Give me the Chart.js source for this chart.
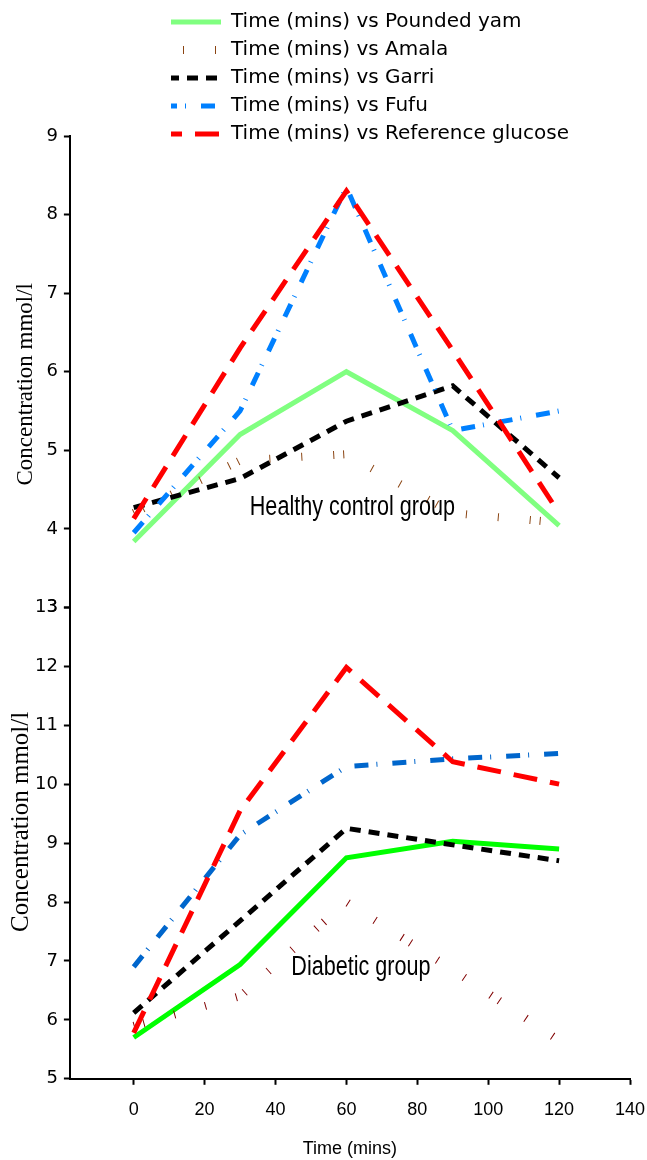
<!DOCTYPE html>
<html>
<head>
<meta charset="utf-8">
<title>Glucose response</title>
<script src="https://cdn.jsdelivr.net/npm/chart.js@4.4.1/dist/chart.umd.min.js"></script>
<style>
  html, body { margin: 0; padding: 0; background: #fff; }
  #wrap { position: relative; width: 647px; height: 1160px; overflow: hidden; }
  #wrap canvas { position: absolute; top: 0; }
</style>
</head>
<body>
<div id="wrap">
  <canvas id="glucoseChart" width="647" height="1160" style="left:0"></canvas>
  <canvas id="legendChart" width="1000" height="160" style="left:163px"></canvas>
</div>
<script>
const times = [0, 30, 60, 90, 120];
const foods = ["Pounded yam", "Amala", "Garri", "Fufu", "Reference glucose"];
const xTicks = [0, 20, 40, 60, 80, 100, 120, 140];

// healthy control group, mmol/l
const healthyPoundedYam = [3.84, 5.2, 6.0, 5.25, 4.04];
const healthyAmala = [4.2, 4.87, 4.95, 4.2, 4.08];
const healthyGarri = [4.27, 4.64, 5.37, 5.82, 4.65];
const healthyFufu = [3.95, 5.5, 8.35, 5.25, 5.5];
const healthyReference = [4.13, 6.3, 8.3, 6.27, 4.2];

// diabetic group, mmol/l
const diabeticPoundedYam = [5.7, 6.94, 8.75, 9.03, 8.9];
const diabeticAmala = [5.9, 6.4, 8.0, 6.85, 5.65];
const diabeticGarri = [6.12, 7.68, 9.25, 8.97, 8.7];
const diabeticFufu = [6.9, 9.14, 10.3, 10.43, 10.52];
const diabeticReference = [5.78, 9.55, 11.98, 10.38, 10.0];

const healthySets = [healthyPoundedYam, healthyAmala, healthyGarri, healthyFufu, healthyReference];
const diabeticSets = [diabeticPoundedYam, diabeticAmala, diabeticGarri, diabeticFufu, diabeticReference];

// line looks (same order as foods)
const healthyColors = ["#80ff80", "#8b4513", "#000000", "#0080ff", "#ff0000"];
const diabeticColors = ["#00ff00", "#800000", "#000000", "#0066cc", "#ff0000"];
const lineWidths = [5, 8, 5, 5, 5];
const lineDashes = [[], [1, 9, 1, 31, 1, 31, 1, 31], [11, 8], [14, 8, 1, 15], [24, 13]];
const legendDashOffsets = [0, 30, 3, 8, 13];

function toPoints(values) {
  return values.map((v, i) => ({ x: times[i], y: v }));
}

const datasets = [];
foods.forEach((food, i) => {
  datasets.push({
    label: "Time (mins) vs " + food,
    data: toPoints(healthySets[i]),
    yAxisID: "yTop",
    borderColor: healthyColors[i],
    borderWidth: lineWidths[i],
    borderDash: lineDashes[i],
    order: foods.length - i
  });
});
foods.forEach((food, i) => {
  datasets.push({
    label: "Time (mins) vs " + food,
    data: toPoints(diabeticSets[i]),
    yAxisID: "yBot",
    borderColor: diabeticColors[i],
    borderWidth: lineWidths[i],
    borderDash: lineDashes[i],
    order: foods.length - i
  });
});

// group names and the two y titles
const panelText = {
  id: "panelText",
  afterDatasetsDraw(chart) {
    const { ctx, chartArea, scales } = chart;
    const x = scales.x, yTop = scales.yTop, yBot = scales.yBot;
    ctx.save();
    ctx.fillStyle = "#000";
    ctx.textAlign = "center";
    ctx.textBaseline = "middle";

    ctx.font = '27px "Liberation Sans", Arial, sans-serif';
    const narrow = (text, px, py) => {
      ctx.save();
      ctx.translate(px, py);
      ctx.scale(0.8, 1);
      ctx.fillText(text, 0, 0);
      ctx.restore();
    };
    narrow("Healthy control group", x.getPixelForValue(61.7), yTop.getPixelForValue(4.27));
    narrow("Diabetic group", x.getPixelForValue(64.1), yBot.getPixelForValue(6.89));

    const yTitle = (text, size, px, py) => {
      ctx.save();
      ctx.font = size + 'px "Liberation Serif", "Times New Roman", serif';
      ctx.translate(px, py);
      ctx.rotate(-Math.PI / 2);
      ctx.fillText(text, 0, 0);
      ctx.restore();
    };
    yTitle("Concentration mmol/l", 23, chartArea.left - 44, yTop.getPixelForValue(5.84));
    yTitle("Concentration mmol/l", 25, chartArea.left - 48, yBot.getPixelForValue(9.36));
    ctx.restore();
  }
};

const axisGrid = {
  display: true,
  drawOnChartArea: false,
  drawTicks: true,
  tickLength: 6,
  tickWidth: 2,
  tickColor: "#000"
};
const axisBorder = { display: true, color: "#000", width: 2 };

new Chart(document.getElementById("glucoseChart"), {
  type: "line",
  data: { datasets: datasets },
  options: {
    responsive: false,
    animation: false,
    devicePixelRatio: 1,
    layout: { padding: { top: 136, left: 29, right: 17, bottom: 0 } },
    elements: {
      point: { radius: 0 },
      line: { tension: 0, fill: false, borderCapStyle: "butt", borderJoinStyle: "miter" }
    },
    plugins: {
      legend: { display: false },
      tooltip: { enabled: false }
    },
    scales: {
      x: {
        type: "linear",
        min: -18,
        max: 140,
        afterBuildTicks: (scale) => {
          scale.ticks = xTicks.map(v => ({ value: v }));
        },
        afterFit: (scale) => {
          scale.paddingRight = 0;
        },
        grid: axisGrid,
        border: axisBorder,
        ticks: {
          color: "#000",
          padding: 14,
          maxRotation: 0,
          font: { family: '"Liberation Sans Narrow", "Liberation Sans", Arial, sans-serif', size: 18 }
        },
        title: {
          display: true,
          text: "Time (mins)",
          color: "#000",
          padding: { top: 4, bottom: 0 },
          font: { family: '"Liberation Sans", Arial, sans-serif', size: 18 }
        }
      },
      yBot: {
        type: "linear",
        position: "left",
        stack: "panels",
        stackWeight: 1,
        weight: 0,
        min: 5,
        max: 13,
        grid: axisGrid,
        border: axisBorder,
        ticks: {
          stepSize: 1,
          color: "#000",
          padding: 6,
          font: { family: '"DejaVu Sans", sans-serif', size: 18 }
        }
      },
      yTop: {
        type: "linear",
        position: "left",
        stack: "panels",
        stackWeight: 1,
        weight: 1,
        min: 3,
        max: 9,
        grid: axisGrid,
        border: axisBorder,
        ticks: {
          stepSize: 1,
          color: "#000",
          padding: 6,
          font: { family: '"DejaVu Sans", sans-serif', size: 18 }
        }
      }
    }
  },
  plugins: [panelText]
});

// legend in its own small chart so the five entries stack in one column
new Chart(document.getElementById("legendChart"), {
  type: "line",
  data: { datasets: [] },
  options: {
    responsive: false,
    animation: false,
    devicePixelRatio: 1,
    layout: { padding: { top: 4 } },
    scales: { x: { display: false }, y: { display: false } },
    plugins: {
      tooltip: { enabled: false },
      legend: {
        position: "left",
        align: "start",
        labels: {
          usePointStyle: true,
          pointStyleWidth: 50,
          boxHeight: 20,
          padding: 8,
          color: "#000",
          font: { family: '"DejaVu Sans", sans-serif', size: 20 },
          generateLabels: () => foods.map((food, i) => ({
            text: "Time (mins) vs " + food,
            fillStyle: healthyColors[i],
            strokeStyle: healthyColors[i],
            lineWidth: lineWidths[i],
            lineDash: lineDashes[i],
            lineDashOffset: legendDashOffsets[i],
            lineCap: "butt",
            pointStyle: "line",
            fontColor: "#000",
            hidden: false,
            datasetIndex: i
          }))
        }
      }
    }
  }
});
</script>
</body>
</html>
